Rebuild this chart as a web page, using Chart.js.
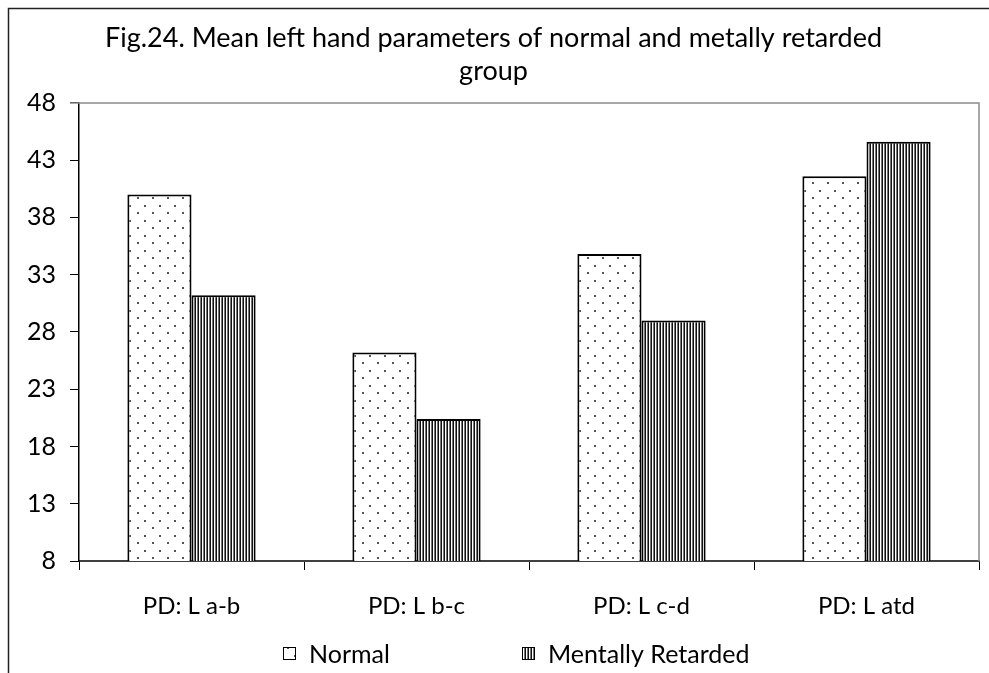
<!DOCTYPE html>
<html>
<head>
<meta charset="utf-8">
<title>Fig.24 Mean left hand parameters</title>
<script src="https://cdn.jsdelivr.net/npm/chart.js@4.4.1/dist/chart.umd.min.js"></script>
<style>
  html, body { margin: 0; padding: 0; background: #fff; }
  #wrap { width: 989px; height: 673px; }
</style>
</head>
<body>
<div id="wrap"><canvas id="chart" width="989" height="673"></canvas></div>
<script>
// data
const categories = ['PD: L a-b', 'PD: L b-c', 'PD: L c-d', 'PD: L atd'];
const normalValues = [40.0, 26.2, 34.8, 41.6];
const retardedValues = [31.2, 20.4, 29.0, 44.6];
const seriesNames = ['Normal', 'Mentally Retarded'];
const yTicks = [8, 13, 18, 23, 28, 33, 38, 43, 48];
const titleLines = ['Fig.24. Mean left hand parameters of normal and metally retarded', 'group'];

const FONT = 'Lato, "Open Sans", sans-serif';

// dotted fill (staggered dots)
function makeDots() {
    const c = document.createElement('canvas');
    c.width = 15;
    c.height = 15;
    const g = c.getContext('2d');
    g.fillStyle = '#fff';
    g.fillRect(0, 0, 15, 15);
    g.fillStyle = '#555';
    g.fillRect(2, 2, 2, 2);
    g.fillRect(9, 10, 2, 2);
    return g.createPattern(c, 'repeat');
}

// vertical stripes
function makeStripes() {
    const c = document.createElement('canvas');
    c.width = 3;
    c.height = 1;
    const g = c.getContext('2d');
    g.fillStyle = '#111';
    g.fillRect(0, 0, 1, 1);
    g.fillStyle = '#fff';
    g.fillRect(1, 0, 1, 1);
    g.fillStyle = '#777';
    g.fillRect(2, 0, 1, 1);
    return g.createPattern(c, 'repeat');
}

const dots = makeDots();
const stripes = makeStripes();

// white page + outer frame (only left and top edges visible in the original)
const framePlugin = {
    id: 'frame',
    beforeDraw(chart) {
        const ctx = chart.ctx;
        ctx.save();
        ctx.fillStyle = '#fff';
        ctx.fillRect(0, 0, chart.width, chart.height);
        ctx.strokeStyle = '#222';
        ctx.lineWidth = 1.5;
        ctx.beginPath();
        ctx.moveTo(8.5, chart.height);
        ctx.lineTo(8.5, 8.5);
        ctx.lineTo(chart.width, 8.5);
        ctx.stroke();
        ctx.restore();
    },
    beforeDatasetsDraw(chart) {
        // grey top + right edge of the plot area
        const a = chart.chartArea;
        const ctx = chart.ctx;
        ctx.save();
        ctx.strokeStyle = '#8c8c8c';
        ctx.lineWidth = 1.5;
        ctx.beginPath();
        ctx.moveTo(a.left - 9, a.top);
        ctx.lineTo(a.right, a.top);
        ctx.lineTo(a.right, a.bottom);
        ctx.stroke();
        ctx.restore();
    }
};

// legend drawn under the axis labels, icons use the same fills as the bars
const legendPlugin = {
    id: 'bottomLegend',
    afterDraw(chart) {
        const ctx = chart.ctx;
        const spots = [283, 522];
        const y = 655;
        ctx.save();
        ctx.font = '25px ' + FONT;
        ctx.textBaseline = 'middle';
        ctx.textAlign = 'left';
        chart.data.datasets.forEach((ds, i) => {
            const x = spots[i];
            ctx.fillStyle = ds.backgroundColor;
            ctx.fillRect(x, y - 8, 13, 13);
            ctx.strokeStyle = '#000';
            ctx.lineWidth = 1;
            ctx.strokeRect(x + 0.5, y - 7.5, 12, 12);
            ctx.fillStyle = '#000';
            ctx.fillText(ds.label, x + 26, y);
        });
        ctx.restore();
    }
};

const ctx = document.getElementById('chart').getContext('2d');

new Chart(ctx, {
    type: 'bar',
    data: {
        labels: categories,
        datasets: [
            {
                label: seriesNames[0],
                data: normalValues,
                backgroundColor: dots,
                borderColor: '#000',
                borderWidth: 2
            },
            {
                label: seriesNames[1],
                data: retardedValues,
                backgroundColor: stripes,
                borderColor: '#000',
                borderWidth: 2
            }
        ]
    },
    options: {
        responsive: false,
        animation: false,
        events: [],
        categoryPercentage: 0.57,
        barPercentage: 1.0,
        layout: {
            padding: { left: 8, right: 10, top: 22, bottom: 52 }
        },
        scales: {
            x: {
                grid: {
                    drawOnChartArea: false,
                    drawTicks: true,
                    tickLength: 9,
                    color: '#000',
                    offset: true
                },
                border: { color: '#404040', width: 2 },
                ticks: {
                    color: '#000',
                    font: { family: FONT, size: 24 },
                    padding: 22
                },
                afterFit(scale) {
                    scale.height = 60;
                }
            },
            y: {
                min: 8,
                max: 48,
                grid: {
                    drawOnChartArea: false,
                    drawTicks: true,
                    tickLength: 9,
                    color: '#000'
                },
                border: { color: '#000', width: 1.5 },
                ticks: {
                    color: '#000',
                    font: { family: FONT, size: 25 },
                    padding: 14
                },
                afterBuildTicks(scale) {
                    scale.ticks = yTicks.map(v => ({ value: v }));
                },
                afterFit(scale) {
                    scale.width = 71;
                }
            }
        },
        plugins: {
            legend: { display: false },
            tooltip: { enabled: false },
            title: {
                display: true,
                text: titleLines,
                color: '#000',
                font: { family: FONT, size: 27, weight: 'normal', lineHeight: 1.22 },
                padding: { top: 0, bottom: 15 }
            }
        }
    },
    plugins: [framePlugin, legendPlugin]
});
</script>
</body>
</html>
